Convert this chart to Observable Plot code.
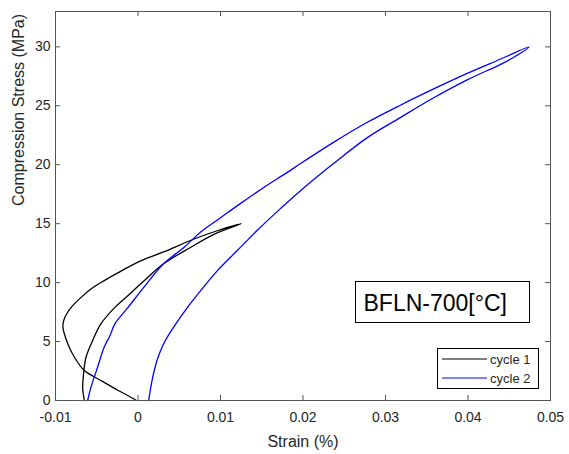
<!DOCTYPE html>
<html><head><meta charset="utf-8">
<script src="https://cdn.jsdelivr.net/npm/d3@7"></script>
<script src="https://cdn.jsdelivr.net/npm/@observablehq/plot@0.6"></script>
<style>body{margin:0;background:#fff}#chart{width:569px;height:454px}</style>
</head><body><div id="chart"></div>
<script>
// ---- data ----
const cycle1Strain = [-0.0002,-0.0013,-0.0024,-0.0045,-0.0065,-0.0077,-0.0085,-0.0091,-0.0090,-0.0086,-0.0081,-0.0069,-0.0057,-0.0041,-0.0020,0.0004,0.0031,0.0068,0.0096,0.0125,
  0.0092,0.0064,0.0031,0.0011,-0.0009,-0.0028,-0.0045,-0.0055,-0.0063,-0.0066,-0.0067,-0.0065];
const cycle1Stress = [0,0.45,0.85,1.7,2.54,3.67,4.8,6.2,6.8,7.4,7.9,8.75,9.46,10.17,11.0,11.86,12.6,13.7,14.4,15.0,
  14.1,13.0,11.6,10.4,9.1,7.9,6.5,5.08,3.67,2.26,1.0,0];
const cycle2Strain = [-0.0061,-0.0059,-0.0057,-0.0049,-0.0041,-0.0034,-0.0028,-0.0012,0.0007,0.0031,0.0056,0.0076,0.0100,0.0124,0.0152,0.0181,0.0197,0.0237,0.0278,0.0318,0.0359,0.0399,0.0439,0.0474,
  0.0455,0.0439,0.0399,0.0359,0.0318,0.0278,0.0237,0.0197,0.0173,0.0144,0.0120,0.0096,0.0076,0.0060,0.0043,0.0031,0.0023,0.0017,0.0013];
const cycle2Stress = [0,0.6,1.13,2.82,4.52,5.5,6.5,7.9,9.6,11.6,13.0,14.3,15.5,16.7,18.05,19.35,20.1,21.9,23.6,25.05,26.45,27.75,28.95,30.0,
  29.1,28.5,27.2,25.7,24.0,22.3,20.1,17.8,16.3,14.4,12.7,11.0,9.32,7.9,6.2,4.8,3.39,1.69,0];
const seriesNames = ["cycle 1", "cycle 2"];
const seriesColors = ["#000000", "#0000ff"];
const xTicks = [-0.01, 0, 0.01, 0.02, 0.03, 0.04, 0.05];
const xTickLabels = ["-0.01", "0", "0.01", "0.02", "0.03", "0.04", "0.05"];
const yTicks = [0, 5, 10, 15, 20, 25, 30];
const yTickLabels = ["0", "5", "10", "15", "20", "25", "30"];
const xLabel = "Strain (%)";
const yLabel = "Compression Stress (MPa)";
const annotationText = "BFLN-700[°C]";

// ---- table for the library ----
const rows = [];
cycle1Strain.forEach((x, i) => rows.push({series: seriesNames[0], strain: x, stress: cycle1Stress[i]}));
cycle2Strain.forEach((x, i) => rows.push({series: seriesNames[1], strain: x, stress: cycle2Stress[i]}));

// ---- layout ----
const W = 569, H = 454, mL = 55, mR = 19, mT = 11, mB = 54;
const fw = W - mL - mR, fh = H - mT - mB;
const axisColor = "#555555", textColor = "#262626";
const font = "'Liberation Sans', Arial, Helvetica, sans-serif";

const chart = Plot.plot({
  width: W, height: H,
  marginLeft: mL, marginRight: mR, marginTop: mT, marginBottom: mB,
  style: {fontFamily: font, fontSize: "14px", color: textColor, background: "#ffffff", overflow: "visible"},
  x: {domain: [-0.01, 0.05]},
  y: {domain: [0, 33]},
  color: {domain: seriesNames, range: seriesColors},
  marks: [
    Plot.line(rows, {x: "strain", y: "stress", z: "series", stroke: "series", strokeWidth: 1.3, curve: "catmull-rom"}),
    Plot.frame({stroke: axisColor}),
    Plot.tickX(xTicks, {x: d => d, insetTop: fh - 5, stroke: axisColor}),
    Plot.tickX(xTicks, {x: d => d, insetBottom: fh - 5, stroke: axisColor}),
    Plot.tickY(yTicks, {y: d => d, insetRight: fw - 5, stroke: axisColor}),
    Plot.tickY(yTicks, {y: d => d, insetLeft: fw - 5, stroke: axisColor}),
    Plot.axisX(xTicks, {tickSize: 0, tickPadding: 12, tickFormat: d => xTickLabels[xTicks.indexOf(d)], label: null, fontSize: 14, fill: textColor}),
    Plot.axisY(yTicks, {tickSize: 0, tickPadding: 5, tickFormat: d => yTickLabels[yTicks.indexOf(d)], label: null, fontSize: 14, fill: textColor}),
    Plot.text([xLabel], {frameAnchor: "bottom", dy: 41, lineAnchor: "middle", fontSize: 16, fill: textColor}),
    Plot.text([yLabel], {frameAnchor: "left", dx: -37, rotate: -90, lineAnchor: "middle", fontSize: 16, fill: textColor}),
    Plot.frame({insetLeft: 300, insetTop: 270, insetRight: 21, insetBottom: 78, stroke: "#000000", strokeWidth: 1}),
    Plot.text([annotationText], {frameAnchor: "top-left", dx: 308, dy: 292, textAnchor: "start", lineAnchor: "middle", fontSize: 23, fill: "#000000"})
  ]
});
document.getElementById("chart").appendChild(chart);

// ---- legend (inside the axes, bottom-right) ----
const svg = d3.select(chart);
const lg = svg.append("g").attr("font-family", font).attr("font-size", 13).attr("text-anchor", "start");
const lx0 = mL + fw - 113, ly0 = mT + fh - 52;
lg.append("rect").attr("x", lx0 + 0.5).attr("y", ly0 + 0.5).attr("width", 101).attr("height", 40)
  .attr("fill", "#ffffff").attr("stroke", "#000000").attr("stroke-width", 1);
seriesNames.forEach((name, i) => {
  const yy = ly0 + 11 + i * 19;
  lg.append("line").attr("x1", lx0 + 5).attr("x2", lx0 + 50).attr("y1", yy).attr("y2", yy)
    .attr("stroke", seriesColors[i]).attr("stroke-width", 1);
  lg.append("text").attr("x", lx0 + 53).attr("y", yy + 4.6).attr("fill", textColor).attr("text-anchor", "start").text(name);
});
</script>
</body></html>
